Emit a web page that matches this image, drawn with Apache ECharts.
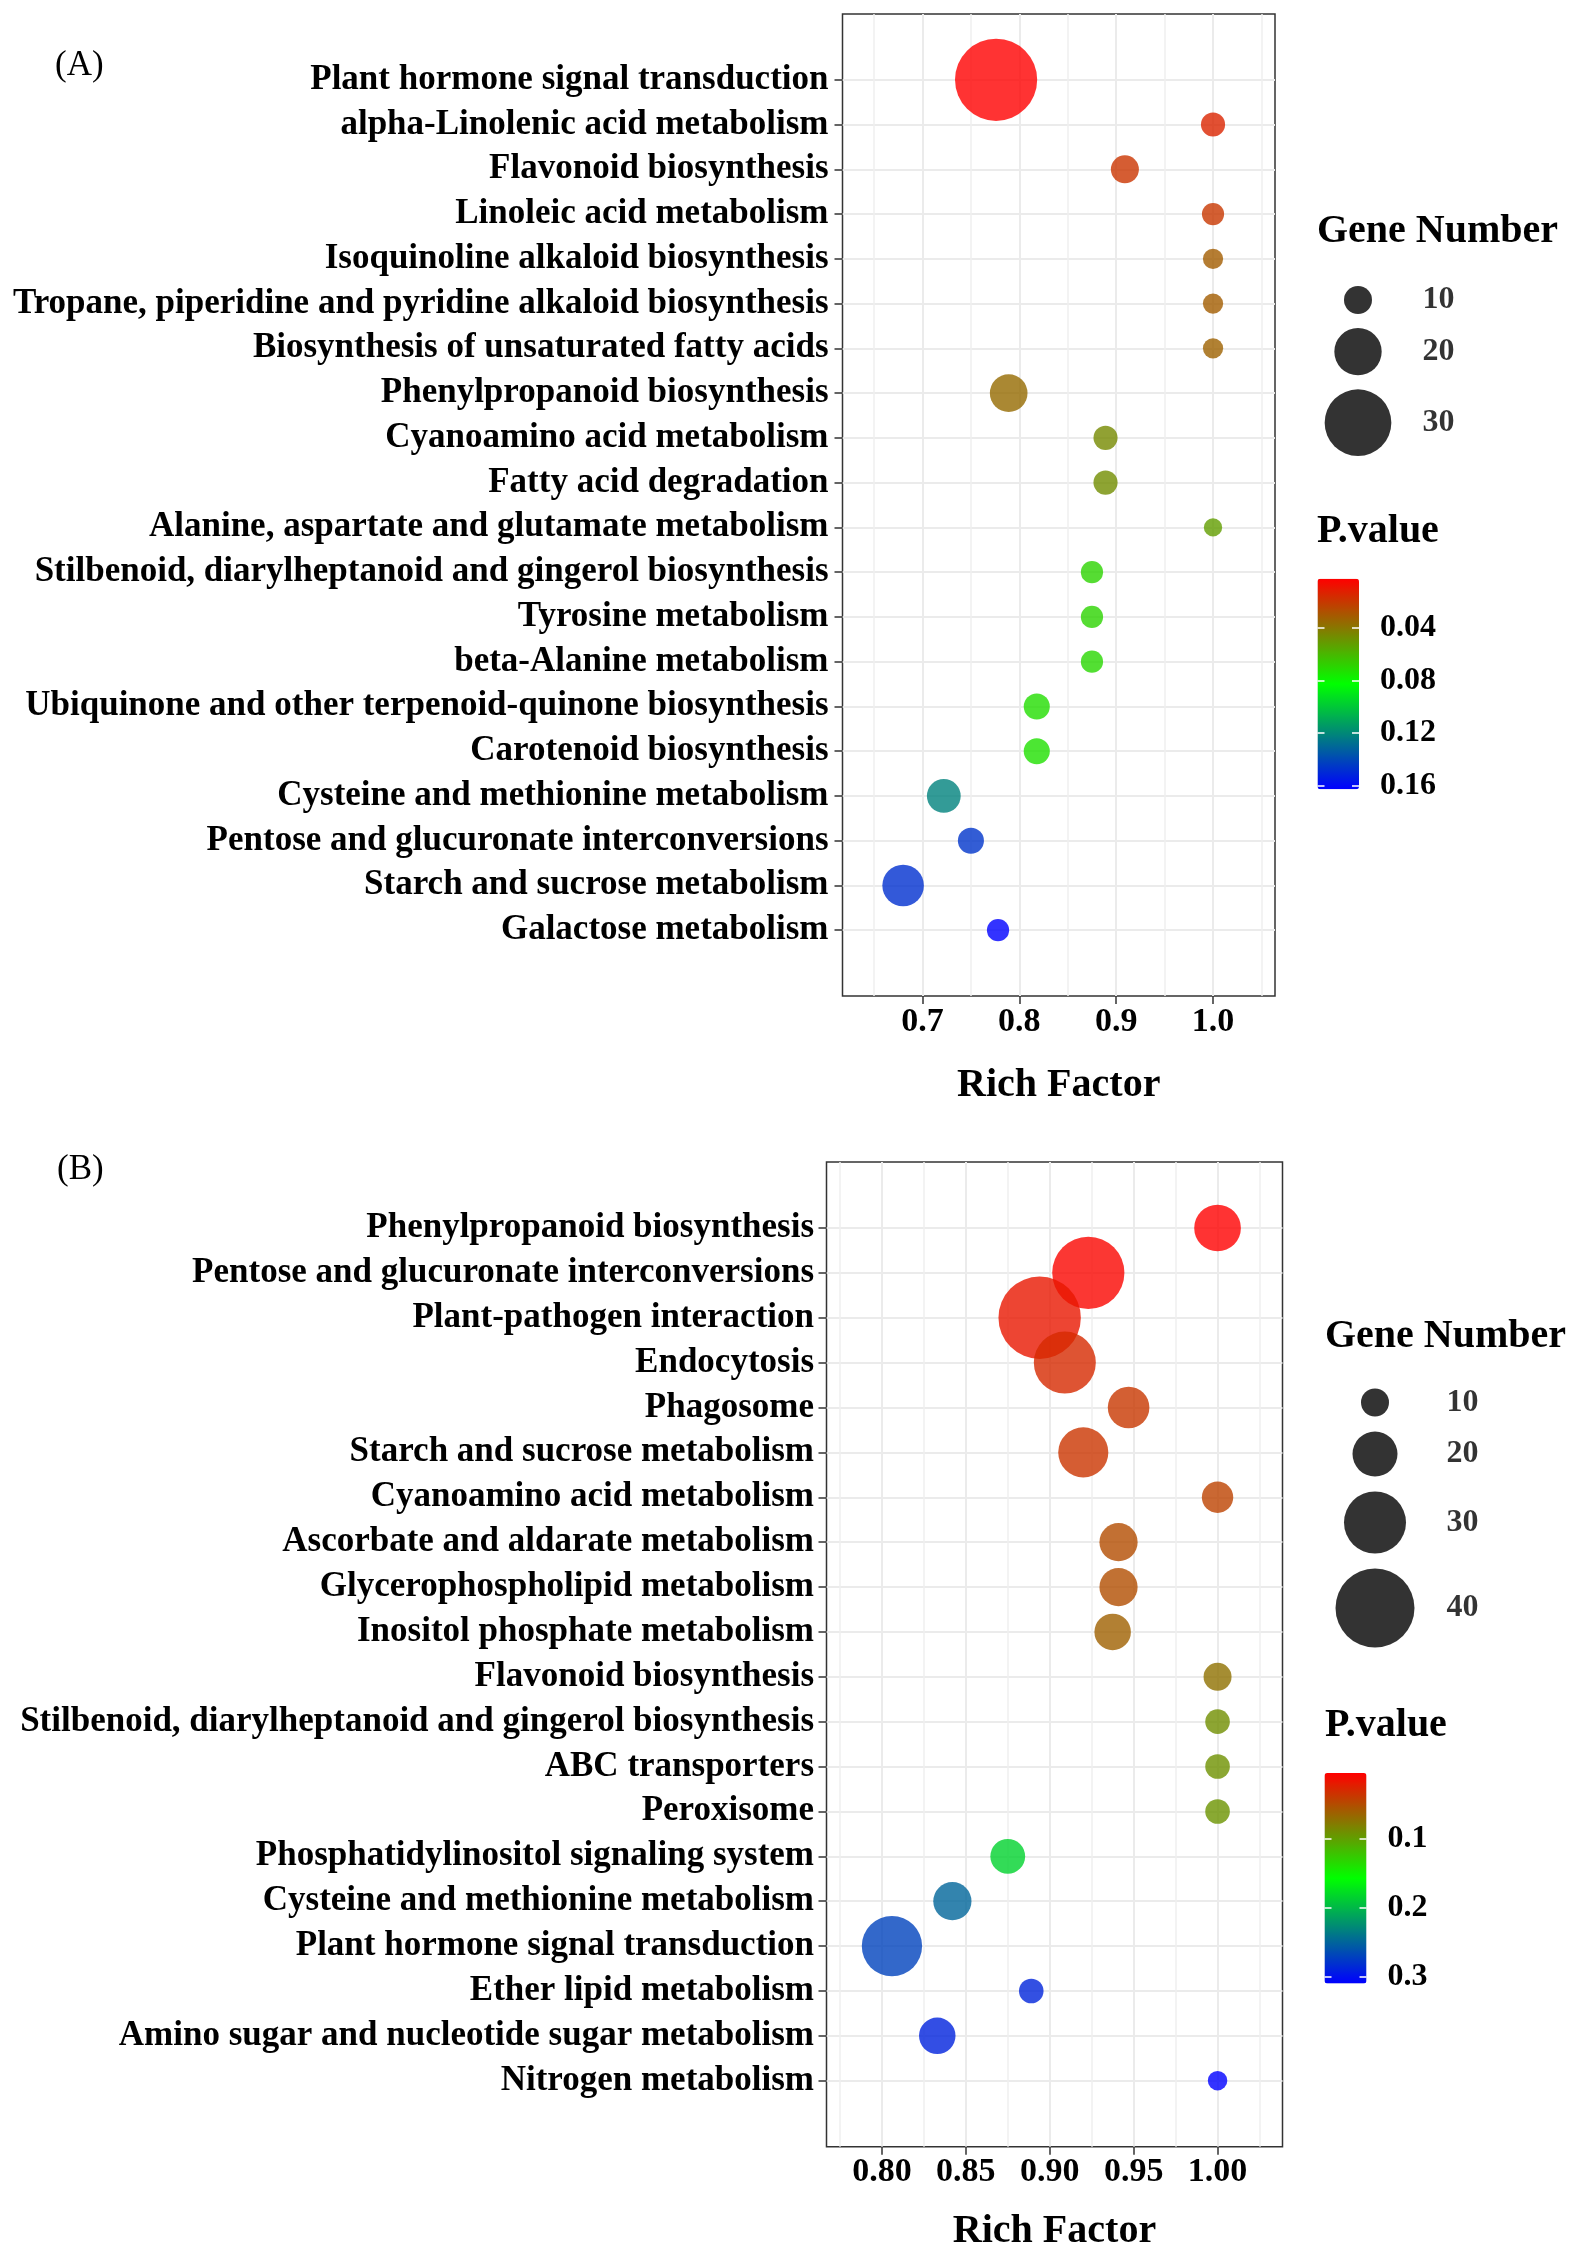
<!DOCTYPE html>
<html>
<head>
<meta charset="utf-8">
<script src="https://cdn.jsdelivr.net/npm/echarts@6/dist/echarts.min.js"></script>
<style>
  html, body { margin: 0; padding: 0; background: #fff; }
  #main { width: 1582px; height: 2262px; }
</style>
</head>
<body>
<div id="main"></div>
<script>
var myChart = echarts.init(document.getElementById('main'));

// ---- panel A data ----
var catsA = ['Plant hormone signal transduction', 'alpha-Linolenic acid metabolism', 'Flavonoid biosynthesis',
  'Linoleic acid metabolism', 'Isoquinoline alkaloid biosynthesis', 'Tropane, piperidine and pyridine alkaloid biosynthesis',
  'Biosynthesis of unsaturated fatty acids', 'Phenylpropanoid biosynthesis', 'Cyanoamino acid metabolism',
  'Fatty acid degradation', 'Alanine, aspartate and glutamate metabolism', 'Stilbenoid, diarylheptanoid and gingerol biosynthesis',
  'Tyrosine metabolism', 'beta-Alanine metabolism', 'Ubiquinone and other terpenoid-quinone biosynthesis',
  'Carotenoid biosynthesis', 'Cysteine and methionine metabolism', 'Pentose and glucuronate interconversions',
  'Starch and sucrose metabolism', 'Galactose metabolism'];
var richA = [0.776, 1.0, 0.909, 1.0, 1.0, 1.0, 1.0, 0.789, 0.889, 0.889, 1.0, 0.875, 0.875, 0.875, 0.818, 0.818, 0.722, 0.75, 0.68, 0.778];
var genesA = [38, 8, 10, 7, 6, 6, 6, 15, 8, 8, 5, 7, 7, 7, 9, 9, 13, 9, 17, 7];
var pA = [0.0027, 0.014, 0.019, 0.02, 0.032, 0.032, 0.033, 0.036, 0.046, 0.047, 0.052, 0.069, 0.069, 0.07, 0.072, 0.073, 0.122, 0.146, 0.148, 0.1627];
var xTicksA = [0.7, 0.8, 0.9, 1.0];
var xMinorA = [0.65, 0.75, 0.85, 0.95, 1.05];
var pTicksA = [0.04, 0.08, 0.12, 0.16];
var sizeKeysA = [10, 20, 30];

// ---- panel B data ----
var catsB = ['Phenylpropanoid biosynthesis', 'Pentose and glucuronate interconversions', 'Plant-pathogen interaction',
  'Endocytosis', 'Phagosome', 'Starch and sucrose metabolism', 'Cyanoamino acid metabolism',
  'Ascorbate and aldarate metabolism', 'Glycerophospholipid metabolism', 'Inositol phosphate metabolism',
  'Flavonoid biosynthesis', 'Stilbenoid, diarylheptanoid and gingerol biosynthesis', 'ABC transporters',
  'Peroxisome', 'Phosphatidylinositol signaling system', 'Cysteine and methionine metabolism',
  'Plant hormone signal transduction', 'Ether lipid metabolism', 'Amino sugar and nucleotide sugar metabolism',
  'Nitrogen metabolism'];
var richB = [1.0, 0.923, 0.894, 0.909, 0.947, 0.92, 1.0, 0.941, 0.941, 0.9375, 1.0, 1.0, 1.0, 1.0, 0.875, 0.842, 0.806, 0.889, 0.833, 1.0];
var genesB = [21, 36, 42, 30, 18, 23, 12, 16, 16, 15, 10, 8, 8, 8, 14, 16, 29, 8, 15, 5];
var pB = [0.0043, 0.007, 0.018, 0.029, 0.037, 0.036, 0.044, 0.05, 0.051, 0.062, 0.072, 0.09, 0.091, 0.092, 0.184, 0.249, 0.27, 0.288, 0.289, 0.3096];
var xTicksB = [0.8, 0.85, 0.9, 0.95, 1.0];
var xMinorB = [0.775, 0.825, 0.875, 0.925, 0.975, 1.025];
var pTicksB = [0.1, 0.2, 0.3];
var sizeKeysB = [10, 20, 30, 40];

// point diameter in px from gene number
function sizeA(v) { return 8.65 + 1.935 * v; }
function sizeB(v) { return 11 + 1.7 * v; }

var FONT = '"Liberation Serif", "Times New Roman", serif';
var gradient = ['#ff0000', '#00ff00', '#0000ff'];

// stacked legend keys: each key is as tall as its circle plus padding
function keyCenters(keys, sizeFn, pad) {
  var y = 0;
  return keys.map(function (k) {
    var h = sizeFn(k) + pad;
    var c = y + h / 2;
    y += h;
    return c;
  });
}

function rows(cats) { return cats.map(function (c, i) { return i; }); }

function mainX(grid, min, max, ticks, digits, gap) {
  return {
    gridIndex: grid, type: 'value', min: min, max: max,
    axisLine: { show: false, onZero: false },
    axisTick: { show: true, length: 8, lineStyle: { color: '#333', width: 1.5 }, customValues: ticks },
    axisLabel: { customValues: ticks, margin: 9, fontSize: 34, fontWeight: 'bold', color: '#000', fontFamily: FONT, lineHeight: 34,
      formatter: function (v) { return v.toFixed(digits); } },
    splitLine: { show: true, lineStyle: { color: '#ebebeb', width: 2 } },
    name: 'Rich Factor', nameLocation: 'middle', nameGap: gap,
    nameTextStyle: { fontSize: 40, fontWeight: 'bold', color: '#000', fontFamily: FONT, lineHeight: 40 }
  };
}
function minorX(grid, min, max, ticks) {
  return {
    gridIndex: grid, type: 'value', position: 'top', min: min, max: max,
    axisLine: { show: false, onZero: false },
    axisTick: { show: false, customValues: ticks },
    axisLabel: { show: false, customValues: ticks },
    splitLine: { show: true, lineStyle: { color: '#efefef', width: 1.5 } }
  };
}
function mainY(grid, cats, margin) {
  var r = rows(cats);
  return {
    gridIndex: grid, type: 'value', inverse: true, min: -1.47, max: 20.47,
    axisLine: { show: false, onZero: false },
    axisTick: { show: true, length: 8, lineStyle: { color: '#333', width: 1.5 }, customValues: r },
    axisLabel: { customValues: r, margin: margin, fontSize: 35, fontWeight: 'bold', color: '#000', fontFamily: FONT,
      formatter: function (v) { return cats[Math.round(v)]; } },
    splitLine: { show: true, lineStyle: { color: '#ebebeb', width: 2 } }
  };
}
function hiddenAxis(grid, min, max, inverse) {
  return { gridIndex: grid, type: 'value', show: false, min: min, max: max, inverse: !!inverse,
    axisLine: { onZero: false } };
}
function cbAxis(grid, pmin, pmax, ticks, side) {
  return {
    gridIndex: grid, type: 'value', position: side, inverse: true, min: pmin, max: pmax, z: 10,
    axisLine: { show: false, onZero: false },
    axisTick: { show: true, inside: true, length: 7, lineStyle: { color: '#fff', width: 1.5 }, customValues: ticks },
    axisLabel: { show: side === 'right', customValues: ticks, margin: 21, fontSize: 32, fontWeight: 'bold', color: '#000', fontFamily: FONT },
    splitLine: { show: false }
  };
}
function pointSeries(xi, yi, cats, rich, genes, p, sizeFn) {
  return {
    type: 'scatter', xAxisIndex: xi, yAxisIndex: yi,
    data: cats.map(function (c, i) { return [rich[i], i, genes[i], p[i]]; }),
    symbolSize: function (d) { return sizeFn(d[2]); },
    itemStyle: { opacity: 0.8 },
    emphasis: { disabled: true }
  };
}
function keySeries(xi, yi, keys, sizeFn, cx, lx, pad) {
  var cy = keyCenters(keys, sizeFn, pad);
  return [{
    type: 'scatter', xAxisIndex: xi, yAxisIndex: yi, silent: true,
    data: keys.map(function (k, i) { return [cx, cy[i], k]; }),
    symbolSize: function (d) { return sizeFn(d[2]); },
    itemStyle: { color: '#000', opacity: 0.8 }
  }, {
    type: 'scatter', xAxisIndex: xi, yAxisIndex: yi, silent: true,
    data: keys.map(function (k, i) { return [lx, cy[i], k]; }),
    symbolSize: 1, itemStyle: { color: 'rgba(0,0,0,0)' },
    label: { show: true, position: 'right', distance: 0, formatter: function (o) { return String(o.data[2]); },
      fontSize: 32, fontWeight: 'bold', color: '#000', fontFamily: FONT }
  }];
}

var pminA = Math.min.apply(null, pA), pmaxA = Math.max.apply(null, pA);
var pminB = Math.min.apply(null, pB), pmaxB = Math.max.apply(null, pB);

var titleStyle = { fontSize: 40, fontWeight: 'bold', color: '#000', fontFamily: FONT, lineHeight: 40 };
var tagStyle = { fontSize: 35, fontWeight: 'normal', color: '#000', fontFamily: FONT, lineHeight: 35 };

var option = {
  backgroundColor: '#fff',
  animation: false,
  title: [
    { text: '(A)', left: 55, top: 48, padding: 0, textStyle: tagStyle },
    { text: '(B)', left: 57, top: 1152, padding: 0, textStyle: tagStyle },
    { text: 'Gene Number', left: 1317, top: 212, padding: 0, textStyle: titleStyle },
    { text: 'P.value', left: 1317, top: 512, padding: 0, textStyle: titleStyle },
    { text: 'Gene Number', left: 1325, top: 1317, padding: 0, textStyle: titleStyle },
    { text: 'P.value', left: 1325, top: 1706, padding: 0, textStyle: titleStyle }
  ],
  grid: [
    { left: 842.5, top: 14, width: 432.5, height: 982, show: true, borderColor: '#333', borderWidth: 1.5, backgroundColor: '#fff' },
    { left: 826.5, top: 1162, width: 456, height: 984.7, show: true, borderColor: '#333', borderWidth: 1.5, backgroundColor: '#fff' },
    { left: 1300, top: 279, width: 260, height: 220 },
    { left: 1300, top: 1381, width: 280, height: 330 },
    { left: 1317.5, top: 578.7, width: 41.5, height: 210.5 },
    { left: 1324.5, top: 1773, width: 42, height: 210.6 }
  ],
  xAxis: [
    mainX(0, 0.6174, 1.064, xTicksA, 1, 69.5),
    minorX(0, 0.6174, 1.064, xMinorA),
    mainX(1, 0.767, 1.0387, xTicksB, 2, 64.5),
    minorX(1, 0.767, 1.0387, xMinorB),
    hiddenAxis(2, 0, 260),
    hiddenAxis(3, 0, 280),
    hiddenAxis(4, 0, 1),
    hiddenAxis(5, 0, 1)
  ],
  yAxis: [
    mainY(0, catsA, 14),
    mainY(1, catsB, 12.5),
    hiddenAxis(2, 0, 220, true),
    hiddenAxis(3, 0, 330, true),
    cbAxis(4, pminA, pmaxA, pTicksA, 'left'),
    cbAxis(4, pminA, pmaxA, pTicksA, 'right'),
    cbAxis(5, pminB, pmaxB, pTicksB, 'left'),
    cbAxis(5, pminB, pmaxB, pTicksB, 'right')
  ],
  visualMap: [
    { type: 'continuous', seriesIndex: 0, dimension: 3, min: pminA, max: pmaxA, inverse: true, calculable: false,
      left: 1317.5, top: 578.7, itemWidth: 41.5, itemHeight: 210.5, padding: 0, hoverLink: false, z: 1,
      inRange: { color: gradient } },
    { type: 'continuous', seriesIndex: 1, dimension: 3, min: pminB, max: pmaxB, inverse: true, calculable: false,
      left: 1324.5, top: 1773, itemWidth: 42, itemHeight: 210.6, padding: 0, hoverLink: false, z: 1,
      inRange: { color: gradient } }
  ],
  series: [
    pointSeries(0, 0, catsA, richA, genesA, pA, sizeA),
    pointSeries(2, 1, catsB, richB, genesB, pB, sizeB)
  ].concat(keySeries(4, 2, sizeKeysA, sizeA, 58, 122, 14))
   .concat(keySeries(5, 3, sizeKeysB, sizeB, 75, 146, 15))
};

myChart.setOption(option);
</script>
</body>
</html>
